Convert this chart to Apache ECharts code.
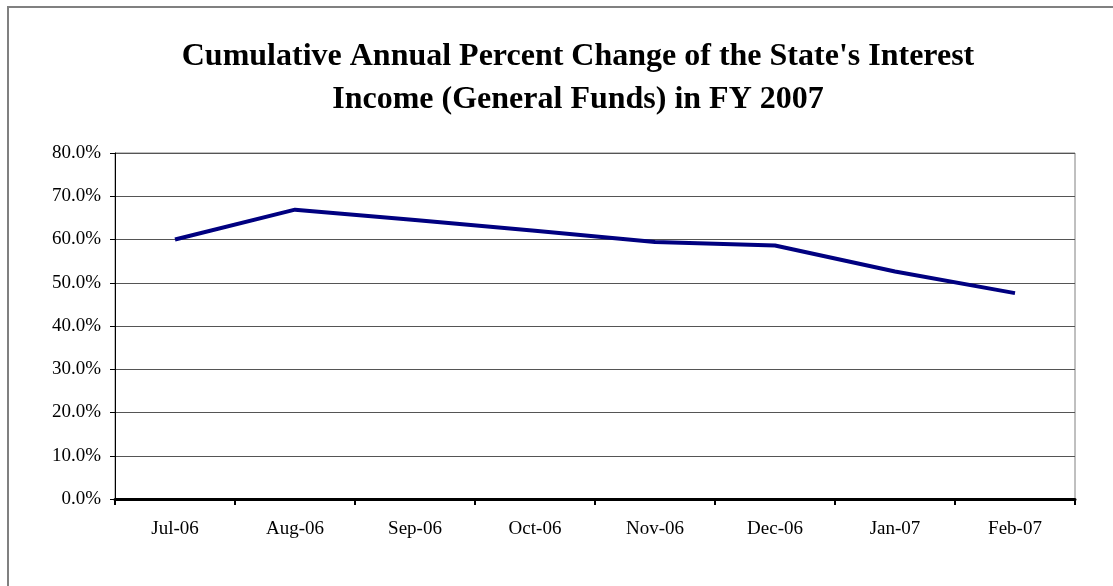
<!DOCTYPE html>
<html>
<head>
<meta charset="utf-8">
<script src="https://cdn.jsdelivr.net/npm/echarts@6/dist/echarts.min.js"></script>
<style>
  html, body { margin: 0; padding: 0; background: #ffffff; }
  #chart { width: 1113px; height: 586px; }
</style>
</head>
<body>
<div id="chart"></div>
<script>
// Month labels for FY 2007
const categories = ['Jul-06', 'Aug-06', 'Sep-06', 'Oct-06', 'Nov-06', 'Dec-06', 'Jan-07', 'Feb-07'];
// Cumulative annual percent change (%)
const percentChange = [60.0, 66.9, 64.5, 62.0, 59.4, 58.6, 52.6, 47.6];
// Value axis range
const yMin = 0;
const yMax = 80;
const yStep = 10;

const serif = '"Liberation Serif", "Times New Roman", serif';

const chart = echarts.init(document.getElementById('chart'), null, { renderer: 'canvas' });

chart.setOption({
  backgroundColor: '#ffffff',
  animation: false,
  title: {
    text: "Cumulative Annual Percent Change of the State's Interest\nIncome (General Funds) in FY 2007",
    left: 573,
    textAlign: 'center',
    top: 30,
    textStyle: {
      fontFamily: serif,
      fontWeight: 'bold',
      fontSize: 32,
      lineHeight: 43,
      color: '#000000'
    }
  },
  graphic: [
    {
      type: 'rect',
      shape: { x: 8, y: 7, width: 1200, height: 700 },
      style: { fill: 'none', stroke: '#808080', lineWidth: 2 },
      silent: true,
      z: -1
    }
  ],
  grid: {
    left: 115,
    right: 38,
    top: 153,
    bottom: 87,
    show: true,
    borderColor: '#808080',
    borderWidth: 1,
    backgroundColor: 'transparent'
  },
  xAxis: {
    type: 'category',
    data: categories,
    boundaryGap: true,
    axisLine: { show: true, lineStyle: { color: '#000000', width: 3 } },
    axisTick: { show: true, alignWithLabel: false, length: 6, lineStyle: { color: '#000000', width: 2 } },
    axisLabel: {
      margin: 21,
      fontFamily: serif,
      fontSize: 19,
      color: '#000000'
    },
    splitLine: { show: false }
  },
  yAxis: {
    type: 'value',
    min: yMin,
    max: yMax,
    interval: yStep,
    axisLine: { show: true, lineStyle: { color: '#000000', width: 1 } },
    axisTick: { show: true, length: 5, lineStyle: { color: '#000000', width: 1 } },
    axisLabel: {
      margin: 14,
      fontFamily: serif,
      fontSize: 19,
      color: '#000000',
      padding: [5, 0, 0, 0],
      formatter: function (v) { return v.toFixed(1) + '%'; }
    },
    splitLine: { show: true, lineStyle: { color: '#555555', width: 1 } }
  },
  series: [
    {
      type: 'line',
      data: percentChange,
      showSymbol: false,
      symbol: 'none',
      smooth: false,
      lineStyle: { color: '#000080', width: 4 },
      itemStyle: { color: '#000080' }
    }
  ]
});
</script>
</body>
</html>
